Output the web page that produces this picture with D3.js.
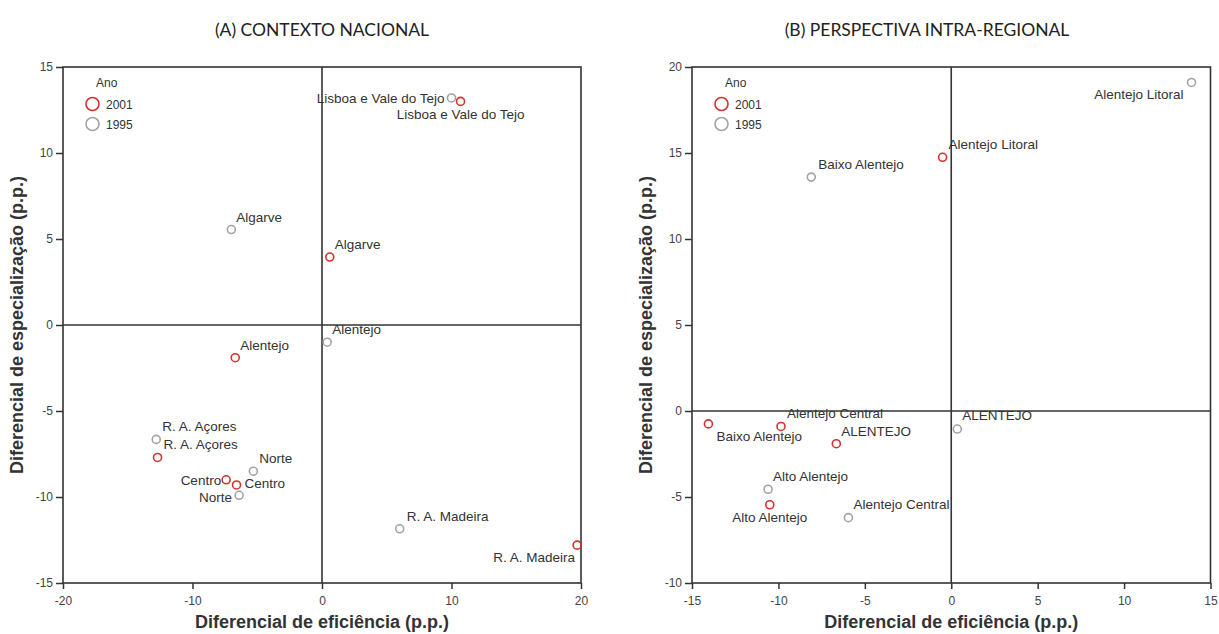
<!DOCTYPE html>
<html>
<head>
<meta charset="utf-8">
<script src="https://cdn.jsdelivr.net/npm/d3@7"></script>
<style>
  html, body { margin: 0; padding: 0; background: #fff; }
  svg { display: block; }
  .tick text { font-family: Arial, "Liberation Sans", sans-serif; font-size: 12px; fill: #444; }
  .tick line { stroke: #333; stroke-width: 1.5; }
</style>
</head>
<body>
<svg id="chart" width="1219" height="634"></svg>
<script>
// ---- Panel A: national context ----
const labelsA = ["Lisboa e Vale do Tejo", "Lisboa e Vale do Tejo", "Algarve", "Algarve",
                 "Alentejo", "Alentejo", "R. A. Açores", "R. A. Açores",
                 "Norte", "Centro", "Centro", "Norte", "R. A. Madeira", "R. A. Madeira"];
const effA  = [10.0, 10.7, -7.0, 0.6, 0.4, -6.7, -12.8, -12.7, -5.3, -7.4, -6.6, -6.4, 6.0, 19.7];
const specA = [13.2, 13.0, 5.55, 3.95, -1.0, -1.9, -6.65, -7.7, -8.5, -9.0, -9.3, -9.9, -11.85, -12.8];
const yearA = [1995, 2001, 1995, 2001, 1995, 2001, 1995, 2001, 1995, 2001, 2001, 1995, 1995, 2001];
const xTicksA = [-20, -10, 0, 10, 20];
const yTicksA = [15, 10, 5, 0, -5, -10, -15];

// ---- Panel B: intra-regional perspective ----
const labelsB = ["Alentejo Litoral", "Alentejo Litoral", "Baixo Alentejo", "Baixo Alentejo",
                 "Alentejo Central", "ALENTEJO", "Alto Alentejo", "Alto Alentejo",
                 "Alentejo Central", "ALENTEJO"];
const effB  = [13.9, -0.5, -8.1, -14.05, -9.85, -6.65, -10.6, -10.5, -5.95, 0.35];
const specB = [19.1, 14.75, 13.6, -0.75, -0.9, -1.9, -4.55, -5.45, -6.2, -1.05];
const yearB = [1995, 2001, 1995, 2001, 2001, 2001, 1995, 2001, 1995, 1995];
const xTicksB = [-15, -10, -5, 0, 5, 10, 15];
const yTicksB = [20, 15, 10, 5, 0, -5, -10];

const years = [2001, 1995];
const titles = ["(A) CONTEXTO NACIONAL", "(B) PERSPECTIVA INTRA-REGIONAL"];
const xTitle = "Diferencial de eficiência (p.p.)";
const yTitle = "Diferencial de especialização (p.p.)";

// label placement per point: [dx, dy, anchor]
const placeA = [[-7, 5, "end"], [0, 18, "middle"], [5, -8, "start"], [5, -8, "start"],
                [5, -8, "start"], [5, -8, "start"], [6, -8, "start"], [6, -8, "start"],
                [6, -8, "start"], [-5, 5, "end"], [8, 3, "start"], [-7, 7, "end"],
                [7, -8, "start"], [-2, 17, "end"]];
const placeB = [[-8, 17, "end"], [6, -8, "start"], [7, -8, "start"], [8, 17, "start"],
                [6, -8, "start"], [5, -8, "start"], [5, -8, "start"], [0, 17, "middle"],
                [5, -9, "start"], [5, -9, "start"]];

const colour = d3.scaleOrdinal().domain(years).range(["#d6302b", "#a3a3a3"]);
const FONT = 'Arial, "Liberation Sans", sans-serif';

const svg = d3.select("#chart");

function panel(cfg) {
  const x = d3.scaleLinear().domain(cfg.xDomain).range([cfg.left, cfg.right]);
  const y = d3.scaleLinear().domain(cfg.yDomain).range([583, 67]);
  const g = svg.append("g");

  // title
  g.append("text")
    .attr("x", cfg.titleX).attr("y", 36)
    .attr("text-anchor", "middle")
    .style("font-family", "Lato, 'Open Sans', sans-serif")
    .style("font-weight", 400)
    .style("font-size", "17.5px")
    .style("fill", "#222")
    .text(cfg.title);

  // axes
  const xa = g.append("g").attr("transform", `translate(0,${y.range()[0]})`)
    .call(d3.axisBottom(x).tickValues(cfg.xTicks).tickSize(6).tickPadding(7).tickFormat(d3.format("d")));
  xa.select(".domain").remove();
  const ya = g.append("g").attr("transform", `translate(${x.range()[0]},0)`)
    .call(d3.axisLeft(y).tickValues(cfg.yTicks).tickSize(7).tickPadding(3).tickFormat(d3.format("d")));
  ya.select(".domain").remove();
  g.selectAll(".tick text").text(d => String(d).replace("\u2212", "-"));

  // frame
  g.append("rect")
    .attr("x", x.range()[0]).attr("y", y.range()[1])
    .attr("width", x.range()[1] - x.range()[0])
    .attr("height", y.range()[0] - y.range()[1])
    .attr("fill", "none").attr("stroke", "#333").attr("stroke-width", 1.6);

  // reference lines at zero
  g.append("line")
    .attr("x1", x(0)).attr("x2", x(0)).attr("y1", y.range()[0]).attr("y2", y.range()[1])
    .attr("stroke", "#333").attr("stroke-width", 1.6);
  g.append("line")
    .attr("x1", x.range()[0]).attr("x2", x.range()[1]).attr("y1", y(0)).attr("y2", y(0))
    .attr("stroke", "#333").attr("stroke-width", 1.6);

  // axis titles
  g.append("text")
    .attr("x", (x.range()[0] + x.range()[1]) / 2).attr("y", 628)
    .attr("text-anchor", "middle")
    .style("font-family", FONT).style("font-weight", "bold").style("font-size", "18px")
    .style("fill", "#333")
    .text(xTitle);
  g.append("text")
    .attr("transform", `translate(${cfg.yTitleX},${(y.range()[0] + y.range()[1]) / 2}) rotate(-90)`)
    .attr("text-anchor", "middle")
    .style("font-family", FONT).style("font-weight", "bold").style("font-size", "18px")
    .style("fill", "#333")
    .text(yTitle);

  // legend
  const lx = x.range()[0];
  const lg = g.append("g").attr("transform", `translate(${lx},0)`);
  lg.append("text").attr("x", 33).attr("y", 87)
    .style("font-family", FONT).style("font-size", "12px").style("fill", "#333").text("Ano");
  years.forEach((yr, i) => {
    lg.append("circle").attr("cx", 29.5).attr("cy", 104 + i * 20).attr("r", 6.5)
      .attr("fill", "none").attr("stroke", colour(yr)).attr("stroke-width", 1.6);
    lg.append("text").attr("x", 43).attr("y", 108.5 + i * 20)
      .style("font-family", FONT).style("font-size", "12px").style("fill", "#333").text(yr);
  });

  // points and labels
  const pts = cfg.labels.map((name, i) => ({
    name, ex: cfg.eff[i], sp: cfg.spec[i], year: cfg.year[i], place: cfg.place[i]
  }));
  g.selectAll("text.lbl").data(pts).join("text")
    .attr("class", "lbl")
    .attr("x", d => x(d.ex) + d.place[0])
    .attr("y", d => y(d.sp) + d.place[1])
    .attr("text-anchor", d => d.place[2])
    .style("font-family", FONT).style("font-size", "13.5px").style("fill", "#333")
    .text(d => d.name);
  g.selectAll("circle.pt").data(pts).join("circle")
    .attr("class", "pt")
    .attr("cx", d => x(d.ex)).attr("cy", d => y(d.sp)).attr("r", 4)
    .attr("fill", "none").attr("stroke", d => colour(d.year)).attr("stroke-width", 1.6);
}

panel({
  title: titles[0], titleX: 322, left: 63, right: 581,
  xDomain: [-20, 20], yDomain: [-15, 15], xTicks: xTicksA, yTicks: yTicksA,
  labels: labelsA, eff: effA, spec: specA, year: yearA, place: placeA, yTitleX: 23
});
panel({
  title: titles[1], titleX: 927, left: 692, right: 1210.5,
  xDomain: [-15, 15], yDomain: [-10, 20], xTicks: xTicksB, yTicks: yTicksB,
  labels: labelsB, eff: effB, spec: specB, year: yearB, place: placeB, yTitleX: 652
});
</script>
</body>
</html>
